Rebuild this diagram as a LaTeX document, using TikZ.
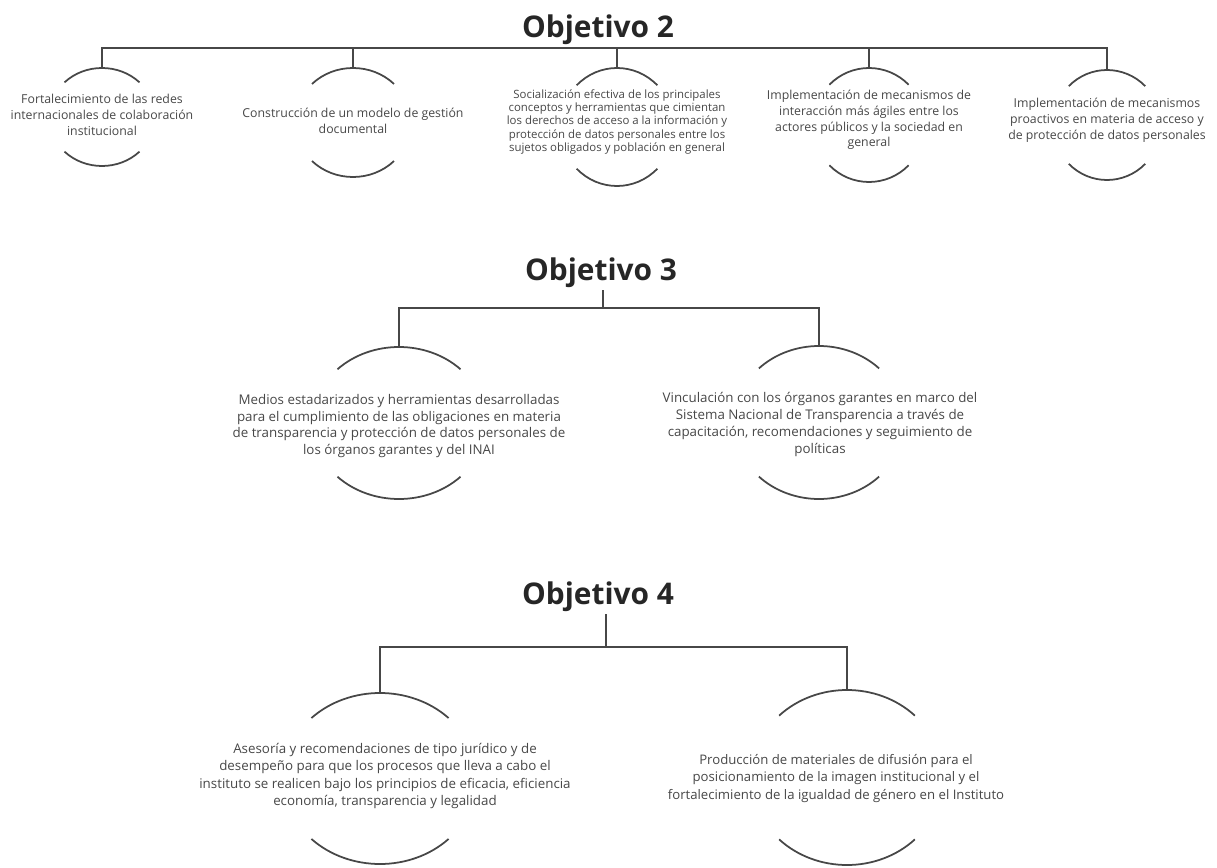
\documentclass[tikz,border=0pt]{standalone}
\usepackage{fontspec}
\setmainfont{Open Sans}
\newfontfamily\headfont{Open Sans}
\usepackage{tikz}

\begin{document}
\begin{tikzpicture}[
  x=0.02cm, y=0.02cm,
  title/.style={font=\headfont\bfseries\fontsize{17}{19}\selectfont, text=black!85, inner sep=1pt},
  item/.style={align=center, inner sep=0pt, text=black!72,
    font=\fontsize{7}{9}\selectfont},
  link/.style={line width=1pt, draw=black!72},
  ring/.style={line width=1pt, draw=black!72}
]
\useasboundingbox (0,0) rectangle (1217,867);

% Objetivo 2
\node[title] (obj2) at (598,837) {Objetivo 2};
\coordinate (j2) at (606,819);

\node[item] (a1) at (102,752) {Fortalecimiento de las redes\\internacionales de colaboración\\institucional};
\node[item] (a2) at (353,746) {Construcción de un modelo de gestión\\documental};
\node[item, font=\fontsize{6.5}{5.9}\selectfont] (a3) at (617,745) {Socialización efectiva de los principales\\conceptos y herramientas que cimientan\\los derechos de acceso a la información y\\protección de datos personales entre los\\sujetos obligados y población en general};
\node[item] (a4) at (869,747) {Implementación de mecanismos de\\interacción más ágiles entre los\\actores públicos y la sociedad en\\general};
\node[item] (a5) at (1107,747) {Implementación de mecanismos\\proactivos en materia de acceso y\\de protección de datos personales};

\coordinate (p1) at (102,799);
\coordinate (p2) at (353,799);
\coordinate (p3) at (617,799);
\coordinate (p4) at (869,799);
\coordinate (p5) at (1107,797);

\draw[ring] (102,750) ++(135:53 and 49) arc[start angle=135, end angle=45, x radius=53, y radius=49]
            (102,750) ++(225:53 and 49) arc[start angle=225, end angle=315, x radius=53, y radius=49];
\draw[ring] (353,744.5) ++(135:58 and 54.5) arc[start angle=135, end angle=45, x radius=58, y radius=54.5]
            (353,744.5) ++(225:58 and 54.5) arc[start angle=225, end angle=315, x radius=58, y radius=54.5];
\draw[ring] (617,740) ++(135:57 and 59) arc[start angle=135, end angle=45, x radius=57, y radius=59]
            (617,740) ++(225:57 and 59) arc[start angle=225, end angle=315, x radius=57, y radius=59];
\draw[ring] (869,742) ++(135:56 and 57) arc[start angle=135, end angle=45, x radius=56, y radius=57]
            (869,742) ++(225:56 and 57) arc[start angle=225, end angle=315, x radius=56, y radius=57];
\draw[ring] (1107,742) ++(135:54 and 55) arc[start angle=135, end angle=45, x radius=54, y radius=55]
            (1107,742) ++(225:54 and 55) arc[start angle=225, end angle=315, x radius=54, y radius=55];

\draw[link] (obj2.south -| j2) -- (j2);
\draw[link] (p1) -- (p1 |- j2) -- (p5 |- j2) -- (p5);
\draw[link] (p2) -- (p2 |- j2);
\draw[link] (p3) -- (p3 |- j2);
\draw[link] (p4) -- (p4 |- j2);

% Objetivo 3
\node[title] (obj3) at (601,594) {Objetivo 3};
\coordinate (j3) at (603,559);

\node[item, font=\fontsize{7.6}{9.6}\selectfont] (b1) at (399,441) {Medios estadarizados y herramientas desarrolladas\\para el cumplimiento de las obligaciones en materia\\de transparencia y protección de datos personales de\\los órganos garantes y del INAI};
\node[item, font=\fontsize{7.6}{9.6}\selectfont] (b2) at (820,442.5) {Vinculación con los órganos garantes en marco del\\Sistema Nacional de Transparencia a través de\\capacitación, recomendaciones y seguimiento de\\políticas};

\coordinate (q1) at (399,520);
\coordinate (q2) at (819,521);

\draw[ring] (399,444) ++(135:87 and 76) arc[start angle=135, end angle=45, x radius=87, y radius=76]
            (399,444) ++(225:87 and 76) arc[start angle=225, end angle=315, x radius=87, y radius=76];
\draw[ring] (819,444.5) ++(135:85 and 76.5) arc[start angle=135, end angle=45, x radius=85, y radius=76.5]
            (819,444.5) ++(225:85 and 76.5) arc[start angle=225, end angle=315, x radius=85, y radius=76.5];

\draw[link] (obj3.south -| j3) -- (j3);
\draw[link] (q1) -- (q1 |- j3) -- (q2 |- j3) -- (q2);

% Objetivo 4
\node[title] (obj4) at (598,270) {Objetivo 4};
\coordinate (j4) at (606,220);

\node[item, font=\fontsize{7.6}{9.8}\selectfont] (c1) at (385,91) {Asesoría y recomendaciones de tipo jurídico y de\\desempeño para que los procesos que lleva a cabo el\\instituto se realicen bajo los principios de eficacia, eficiencia\\economía, transparencia y legalidad};
\node[item, font=\fontsize{7.5}{9.8}\selectfont] (c2) at (836,88.5) {Producción de materiales de difusión para el\\posicionamiento de la imagen institucional y el\\fortalecimiento de la igualdad de género en el Instituto};

\coordinate (s1) at (380,174);
\coordinate (s2) at (847,177);

\draw[ring] (380,88.5) ++(135:97 and 85.5) arc[start angle=135, end angle=45, x radius=97, y radius=85.5]
            (380,88.5) ++(225:97 and 85.5) arc[start angle=225, end angle=315, x radius=97, y radius=85.5];
\draw[ring] (847,89.5) ++(135:96 and 87.5) arc[start angle=135, end angle=45, x radius=96, y radius=87.5]
            (847,89.5) ++(225:96 and 87.5) arc[start angle=225, end angle=315, x radius=96, y radius=87.5];

\draw[link] (obj4.south -| j4) -- (j4);
\draw[link] (s1) -- (s1 |- j4) -- (s2 |- j4) -- (s2);

\end{tikzpicture}
\end{document}
